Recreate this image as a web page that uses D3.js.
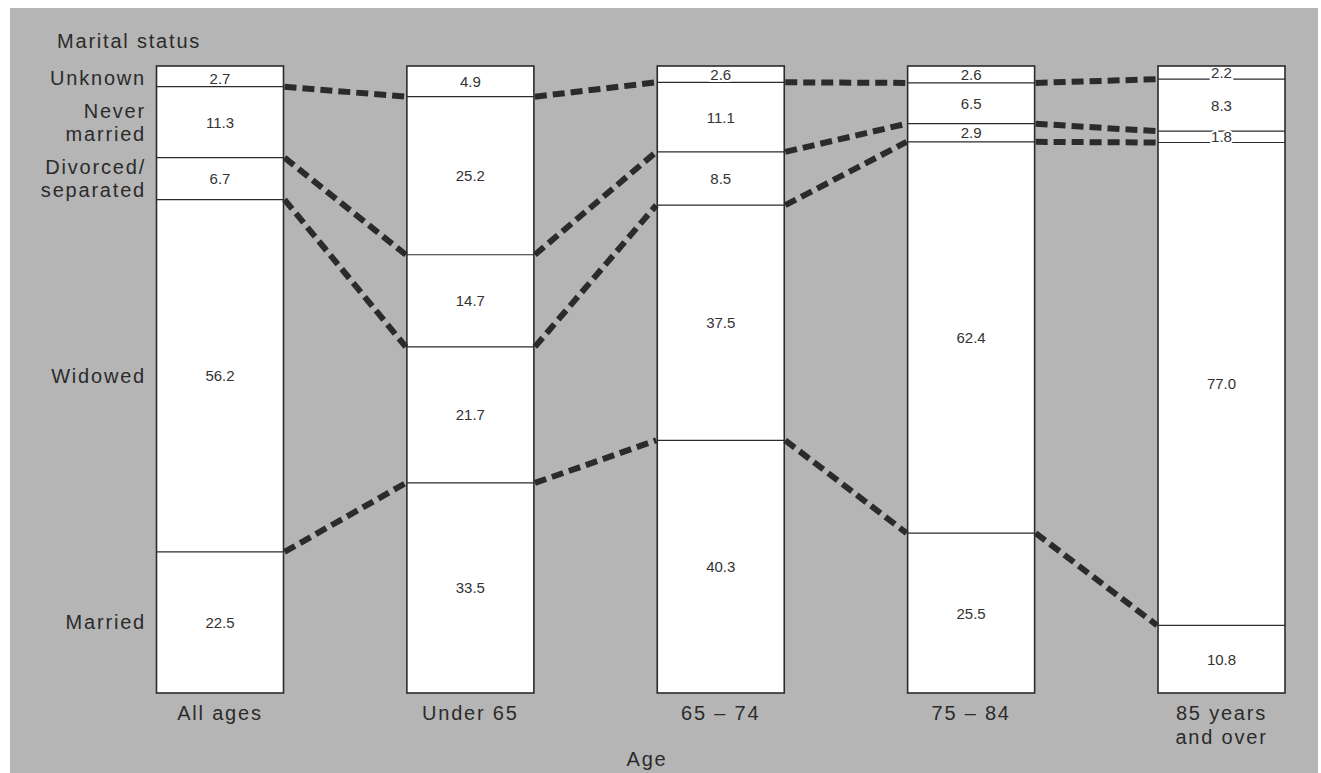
<!DOCTYPE html>
<html>
<head>
<meta charset="utf-8">
<script src="https://cdn.jsdelivr.net/npm/d3@7"></script>
<style>
  html, body { margin: 0; padding: 0; background: #ffffff; }
  svg { display: block; }
  text { font-family: "Liberation Sans", Arial, Helvetica, sans-serif; }
</style>
</head>
<body>
<svg id="chart" width="1321" height="773"></svg>
<script>
// ---- Data ----
const ages = ["All ages", "Under 65", "65 – 74", "75 – 84", "85 years\nand over"];
const statuses = ["Married", "Widowed", "Divorced/\nseparated", "Never\nmarried", "Unknown"]; // bottom to top
const married      = [22.5, 33.5, 40.3, 25.5, 10.8];
const widowed      = [56.2, 21.7, 37.5, 62.4, 77.0];
const divorced     = [6.7, 14.7, 8.5, 2.9, 1.8];
const neverMarried = [11.3, 25.2, 11.1, 6.5, 8.3];
const unknown      = [2.7, 4.9, 2.6, 2.6, 2.2];
const yTitle = "Marital status";
const xTitle = "Age";

const series = [married, widowed, divorced, neverMarried, unknown];
const rows = ages.map((a, i) => {
  const r = { age: a };
  statuses.forEach((s, k) => { r[s] = series[k][i]; });
  return r;
});

// ---- Layout ----
const W = 1321, H = 773;
const svg = d3.select("#chart");
const ink = "#2b2b2b";

svg.append("rect").attr("x", 10).attr("y", 8).attr("width", 1308).attr("height", H - 8)
  .attr("fill", "#b5b5b5");

const x = d3.scalePoint().domain(ages).range([220, 1221.5]);
const barW = 127;
const y = d3.scaleLinear().domain([0, 100]).range([693, 66]);

const stack = d3.stack().keys(statuses)(rows);

const g = svg.append("g");

// bar fills
ages.forEach(a => {
  g.append("rect")
    .attr("x", x(a) - barW / 2).attr("y", y(100))
    .attr("width", barW).attr("height", y(0) - y(100))
    .attr("fill", "#ffffff");
});

// internal boundary lines (tops of all but the last series)
stack.slice(0, -1).forEach(layer => {
  layer.forEach((d, i) => {
    const a = ages[i];
    g.append("line")
      .attr("x1", x(a) - barW / 2).attr("x2", x(a) + barW / 2)
      .attr("y1", y(d[1])).attr("y2", y(d[1]))
      .attr("stroke", ink).attr("stroke-width", 1.2);
  });
});

// dashed connectors between adjacent bars
stack.slice(0, -1).forEach(layer => {
  for (let i = 0; i < ages.length - 1; i++) {
    g.append("line")
      .attr("x1", x(ages[i]) + barW / 2 + 1).attr("y1", y(layer[i][1]))
      .attr("x2", x(ages[i + 1]) - barW / 2 - 1).attr("y2", y(layer[i + 1][1]))
      .attr("stroke", ink).attr("stroke-width", 6)
      .attr("stroke-dasharray", "12,6");
  }
});

// value labels
stack.forEach(layer => {
  layer.forEach((d, i) => {
    const a = ages[i];
    g.append("text")
      .attr("x", x(a)).attr("y", (y(d[0]) + y(d[1])) / 2)
      .attr("text-anchor", "middle").attr("dominant-baseline", "central")
      .attr("font-size", 15).attr("fill", "#333")
      .attr("stroke", "#ffffff").attr("stroke-width", 4).attr("paint-order", "stroke")
      .text(d.data[layer.key].toFixed(1));
  });
});

// bar outlines
ages.forEach(a => {
  g.append("rect")
    .attr("x", x(a) - barW / 2).attr("y", y(100))
    .attr("width", barW).attr("height", y(0) - y(100))
    .attr("fill", "none").attr("stroke", ink).attr("stroke-width", 1.6);
});

// helper for multi-line labels
function multiline(sel, str, lineH, anchorMid) {
  const lines = str.split("\n");
  const off = anchorMid ? -(lines.length - 1) * lineH / 2 : 0;
  lines.forEach((l, k) => {
    sel.append("tspan").attr("x", sel.attr("x")).attr("dy", k === 0 ? off : lineH).text(l);
  });
}

// category labels (left), centered on the first bar's segments
stack.forEach(layer => {
  const d = layer[0];
  const t = svg.append("text")
    .attr("x", 146).attr("y", (y(d[0]) + y(d[1])) / 2)
    .attr("text-anchor", "end").attr("dominant-baseline", "central")
    .attr("font-size", 20).attr("letter-spacing", 1.8).attr("fill", ink);
  multiline(t, layer.key, 23, true);
});

// y title
svg.append("text").attr("x", 57).attr("y", 48)
  .attr("font-size", 20).attr("letter-spacing", 1.8).attr("fill", ink)
  .text(yTitle);

// x labels
ages.forEach(a => {
  const t = svg.append("text")
    .attr("x", x(a)).attr("y", 720)
    .attr("text-anchor", "middle")
    .attr("font-size", 20).attr("letter-spacing", 1.8).attr("fill", ink);
  multiline(t, a, 24, false);
});

// x title
svg.append("text").attr("x", 647).attr("y", 766)
  .attr("text-anchor", "middle")
  .attr("font-size", 20).attr("letter-spacing", 1.8).attr("fill", ink)
  .text(xTitle);
</script>
</body>
</html>
